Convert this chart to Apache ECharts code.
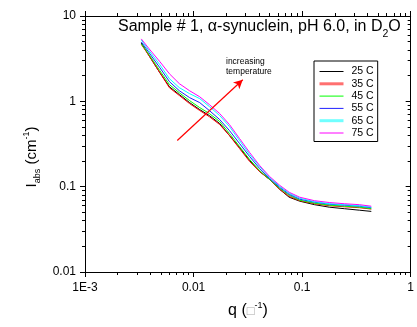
<!DOCTYPE html>
<html><head><meta charset="utf-8">
<script src="https://cdn.jsdelivr.net/npm/echarts@6/dist/echarts.min.js"></script>
<style>html,body{margin:0;padding:0;background:#fff}#c{width:417px;height:327px}</style>
</head><body><div id="c"></div>
<script>
// q values (Å^-1)
const qValues = [0.0033, 0.0039, 0.0049, 0.0060, 0.0074, 0.0092, 0.0114, 0.0140, 0.0174, 0.0214, 0.0265, 0.0328, 0.0405, 0.0500, 0.0620, 0.0760, 0.0950, 0.130, 0.178, 0.245, 0.337, 0.434];
const seriesNames = ['25 C', '35 C', '45 C', '55 C', '65 C', '75 C'];
const seriesColors = ['#000000', '#ff0000', '#00ff00', '#2020ff', '#00ffff', '#ff00ff'];
const I25 = [4.84, 3.41, 2.16, 1.48, 1.20, 0.966, 0.800, 0.681, 0.549, 0.398, 0.288, 0.203, 0.151, 0.122, 0.0933, 0.0752, 0.0676, 0.0615, 0.0575, 0.0552, 0.0530, 0.0513];
const I35 = [4.65, 3.41, 2.16, 1.44, 1.17, 0.940, 0.780, 0.660, 0.535, 0.398, 0.280, 0.198, 0.151, 0.122, 0.0933, 0.0770, 0.0685, 0.0631, 0.0598, 0.0581, 0.0567, 0.0546];
const I45 = [4.71, 3.51, 2.28, 1.57, 1.26, 1.019, 0.844, 0.719, 0.580, 0.420, 0.296, 0.209, 0.155, 0.122, 0.0958, 0.0794, 0.0694, 0.0640, 0.0607, 0.0590, 0.0575, 0.0552];
const I55 = [4.97, 3.70, 2.47, 1.70, 1.33, 1.105, 0.966, 0.779, 0.612, 0.455, 0.321, 0.226, 0.164, 0.125, 0.0984, 0.0815, 0.0713, 0.0658, 0.0623, 0.0607, 0.0590, 0.0567];
const I65 = [5.25, 3.91, 2.68, 1.84, 1.445, 1.23, 1.075, 0.868, 0.681, 0.507, 0.348, 0.239, 0.173, 0.129, 0.101, 0.0838, 0.0732, 0.0667, 0.0631, 0.0615, 0.0598, 0.0575];
const I75 = [5.39, 4.12, 2.91, 2.10, 1.61, 1.33, 1.13, 0.915, 0.719, 0.535, 0.367, 0.252, 0.178, 0.132, 0.104, 0.0860, 0.0752, 0.0685, 0.0652, 0.0631, 0.0615, 0.0590];
const seriesValues = [I25, I35, I45, I55, I65, I75];
const xMajor = [0.001, 0.01, 0.1, 1];
const xTickLabels = ['1E-3', '0.01', '0.1', '1'];
const yMajor = [0.01, 0.1, 1, 10];
const yTickLabels = ['0.01', '0.1', '1', '10'];
const arrowStart = [0.00708, 0.348];
const arrowEnd = [0.0284, 1.79];

function minorOf(majors) {
  const out = [];
  for (let i = 0; i < majors.length - 1; i++) for (let k = 2; k <= 9; k++) out.push(+(majors[i] * k).toPrecision(3));
  return out;
}
function labelFor(majors, labels) {
  return function (v) {
    const lv = Math.round(Math.log10(v));
    for (let i = 0; i < majors.length; i++) if (Math.round(Math.log10(majors[i])) === lv) return labels[i];
    return '';
  };
}
const FONT = 'Liberation Sans, Arial, sans-serif';
const line = { show: true, lineStyle: { color: '#000', width: 1 } };

function xAx(pos, vals, len, inside, labels, showLine) {
  return {
    type: 'log', logBase: 10, position: pos, min: 0.001, max: 1,
    axisLine: showLine ? line : { show: false },
    axisTick: { show: true, customValues: vals, length: len, inside: inside, lineStyle: { color: '#000', width: 1 } },
    axisLabel: labels ? { show: true, customValues: xMajor, formatter: labelFor(xMajor, xTickLabels), color: '#000', fontSize: 12, fontFamily: FONT, margin: 10 } : { show: false },
    splitLine: { show: false }, minorTick: { show: false }
  };
}
function yAx(pos, vals, len, inside, labels, showLine) {
  return {
    type: 'log', logBase: 10, position: pos, min: 0.01, max: 10,
    axisLine: showLine ? line : { show: false },
    axisTick: { show: true, customValues: vals, length: len, inside: inside, lineStyle: { color: '#000', width: 1 } },
    axisLabel: labels ? { show: true, customValues: yMajor, formatter: labelFor(yMajor, yTickLabels), color: '#000', fontSize: 12, fontFamily: FONT, margin: 9 } : { show: false },
    splitLine: { show: false }, minorTick: { show: false }
  };
}

const series = seriesNames.map((n, i) => ({
  name: n, type: 'line', xAxisIndex: 0, yAxisIndex: 0,
  showSymbol: false, symbol: 'none', animation: false,
  lineStyle: { color: seriesColors[i], width: 1 }, itemStyle: { color: seriesColors[i] },
  data: qValues.map((q, j) => [q, seriesValues[i][j]])
}));
series[0].markLine = {
  silent: true, symbol: ['none', 'arrow'], symbolSize: [7, 9], animation: false,
  lineStyle: { color: '#ff0000', width: 1.2, type: 'solid' }, label: { show: false },
  data: [[{ coord: arrowStart }, { coord: arrowEnd }]]
};

const legendData = seriesNames.map((n, i) => {
  const d = { name: n, lineStyle: { color: seriesColors[i], width: 1 } };
  if (i === 1) d.lineStyle = { color: '#ff7070', width: 3 };
  if (i === 4) d.lineStyle = { color: '#70ffff', width: 3 };
  return d;
});

const chart = echarts.init(document.getElementById('c'), null, { renderer: 'canvas' });
chart.setOption({
  backgroundColor: '#fff',
  animation: false,
  textStyle: { fontFamily: FONT },
  grid: { left: 85, right: 6, top: 16, bottom: 55, containLabel: false },
  title: {
    text: '{n|Sample # 1, α-synuclein, pH 6.0, in D}{s|2}{n|O}',
    left: 118, top: 17, padding: 0,
    textStyle: { fontWeight: 'normal', rich: {
      n: { fontSize: 16, fontFamily: FONT, fontWeight: 'normal', color: '#000', lineHeight: 20 },
      s: { fontSize: 10.5, fontFamily: FONT, fontWeight: 'normal', color: '#000', verticalAlign: 'bottom', lineHeight: 10, padding: [0, 0, -3, 0] }
    } }
  },
  legend: {
    orient: 'vertical', left: 314, top: 61, padding: [5, 4, 3, 4],
    itemWidth: 24, itemHeight: 10, itemGap: 1.3,
    lineStyle: { width: 1 },
    itemStyle: { opacity: 0, borderWidth: 0 },
    backgroundColor: '#fff', borderColor: '#000', borderWidth: 1, borderRadius: 0,
    textStyle: { fontSize: 10.5, lineHeight: 10, fontFamily: FONT, color: '#000', padding: [0, 0, 0, 3] },
    data: legendData
  },
  xAxis: [
    xAx('bottom', xMajor, 5, false, true, true),
    xAx('bottom', minorOf(xMajor), 3, false, false, false),
    xAx('top', xMajor, 5, false, false, true),
    xAx('top', minorOf(xMajor), 3, false, false, false)
  ],
  yAxis: [
    yAx('left', yMajor, 5, false, true, true),
    yAx('left', minorOf(yMajor), 3, false, false, false),
    yAx('right', yMajor, 5, true, false, true),
    yAx('right', minorOf(yMajor), 3, true, false, false)
  ],
  graphic: [
    { type: 'text', left: 226, top: 57, style: { text: 'increasing\ntemperature', font: '8.5px ' + FONT, fill: '#000', lineHeight: 10 } },
    { type: 'text', x: 248, y: 311, style: {
      text: '{n|q (}{b|□}{u|-1}{n|)}', align: 'center', verticalAlign: 'middle',
      rich: {
        n: { fontSize: 16, fontFamily: FONT, fill: '#000', lineHeight: 20 },
        b: { fontSize: 13, fontFamily: FONT, fill: '#aaa', lineHeight: 20 },
        u: { fontSize: 9, fontFamily: FONT, fill: '#000', verticalAlign: 'top', lineHeight: 9 }
      } } },
    { type: 'text', x: 32, y: 157, rotation: Math.PI / 2, style: {
      text: '{n|I}{s|abs}{n| (cm}{u|-1}{n|)}', align: 'center', verticalAlign: 'middle',
      rich: {
        n: { fontSize: 15, fontFamily: FONT, fill: '#000', lineHeight: 20 },
        s: { fontSize: 9, fontFamily: FONT, fill: '#000', verticalAlign: 'bottom', lineHeight: 9 },
        u: { fontSize: 9, fontFamily: FONT, fill: '#000', verticalAlign: 'top', lineHeight: 9 }
      } } }
  ],
  series: series
});
</script></body></html>
